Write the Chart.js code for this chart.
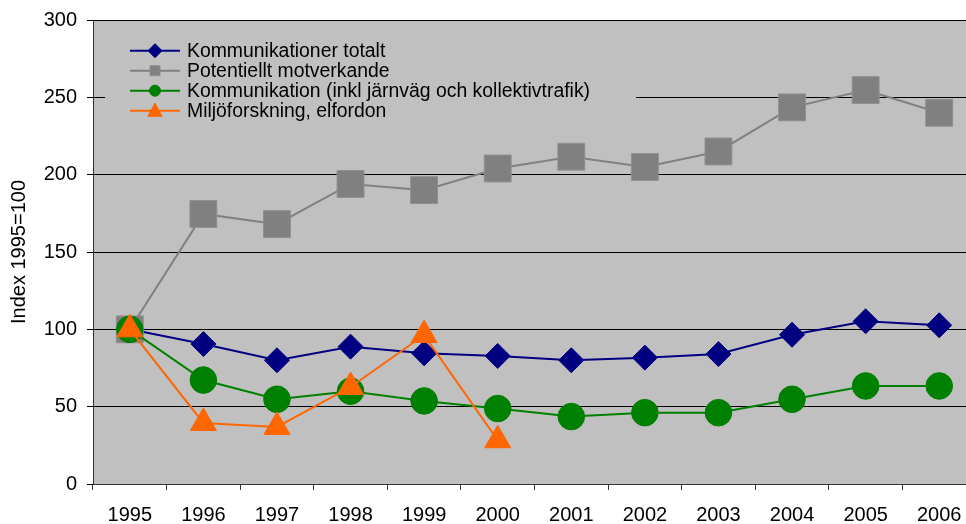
<!DOCTYPE html>
<html>
<head>
<meta charset="utf-8">
<script src="https://cdn.jsdelivr.net/npm/chart.js@4/dist/chart.umd.min.js"></script>
<style>
  html, body { margin: 0; padding: 0; background: #fff; overflow: hidden; }
  #wrap { width: 966px; height: 524px; overflow: hidden; position: relative; }
  canvas { display: block; }
</style>
</head>
<body>
<div id="wrap"><canvas id="c" width="1000" height="524" style="width:1000px;height:524px"></canvas></div>
<script>
const years = ['1995','1996','1997','1998','1999','2000','2001','2002','2003','2004','2005','2006'];
const seriesNames = [
  'Kommunikationer totalt',
  'Potentiellt motverkande',
  'Kommunikation (inkl järnväg och kollektivtrafik)',
  'Miljöforskning, elfordon'
];
const kommTotalt   = [100, 90.5, 80, 88.8, 84.5, 82.8, 80, 81.7, 84, 96.5, 105.2, 102.6];
const motverkande  = [100, 174.6, 168, 194, 190, 204, 211.6, 205, 215, 243.5, 254.7, 240];
const kommInkl     = [100, 67.2, 54.8, 60, 53.7, 48.8, 43.6, 46.1, 46.1, 54.8, 63.4, 63.4];
const miljo        = [100, 39.5, 36.9, 62.7, 96.3, 28.3, null, null, null, null, null, null];
const yTicks = [0, 50, 100, 150, 200, 250, 300];
const yTitle = 'Index 1995=100';

const FONT = "'Liberation Sans', Arial, sans-serif";
const TARGET_RIGHT = 976;

const bgPlugin = {
  id: 'bg',
  beforeDraw(chart) {
    const ctx = chart.ctx, a = chart.chartArea;
    ctx.save();
    ctx.fillStyle = '#ffffff';
    ctx.fillRect(0, 0, chart.width, chart.height);
    ctx.fillStyle = '#C0C0C0';
    ctx.fillRect(a.left, a.top, a.right - a.left, a.bottom - a.top);
    ctx.restore();
  }
};

function drawMarker(ctx, style, x, y, r, fill, stroke) {
  ctx.beginPath();
  if (style === 'rectRot') {
    ctx.moveTo(x, y - r); ctx.lineTo(x + r, y); ctx.lineTo(x, y + r); ctx.lineTo(x - r, y); ctx.closePath();
  } else if (style === 'rect') {
    ctx.rect(x - r, y - r, 2 * r, 2 * r);
  } else if (style === 'circle') {
    ctx.arc(x, y, r, 0, Math.PI * 2);
  } else if (style === 'triangle') {
    ctx.moveTo(x, y - r); ctx.lineTo(x + r * 0.95, y + r * 0.75); ctx.lineTo(x - r * 0.95, y + r * 0.75); ctx.closePath();
  }
  ctx.fillStyle = fill; ctx.fill();
  ctx.strokeStyle = stroke; ctx.lineWidth = 1; ctx.stroke();
}

const legendPlugin = {
  id: 'insideLegend',
  afterDatasetsDraw(chart) {
    const ctx = chart.ctx, a = chart.chartArea;
    const boxL = a.left + 12, boxR = 636, boxT = 32, boxB = 128;
    ctx.save();
    ctx.fillStyle = '#C0C0C0';
    ctx.fillRect(boxL, boxT, boxR - boxL, boxB - boxT);
    const legendMarkers = [
      {style: 'rectRot', r: 7},
      {style: 'rect', r: 5},
      {style: 'circle', r: 5.5},
      {style: 'triangle', r: 7.5}
    ];
    chart.data.datasets.forEach((ds, i) => {
      const y = 50.7 + i * 20;
      const x0 = 130, x1 = 180;
      ctx.strokeStyle = ds.borderColor; ctx.lineWidth = 2;
      ctx.beginPath(); ctx.moveTo(x0, y); ctx.lineTo(x1, y); ctx.stroke();
      const m = legendMarkers[i];
      drawMarker(ctx, m.style, (x0 + x1) / 2, y, m.r, ds.pointBackgroundColor, ds.pointBorderColor);
      ctx.fillStyle = '#000';
      ctx.font = '19.4px ' + FONT;
      ctx.textAlign = 'left'; ctx.textBaseline = 'middle';
      ctx.fillText(ds.label, 187, y + 1);
    });
    ctx.restore();
  }
};

const ctx = document.getElementById('c').getContext('2d');
const chart = new Chart(ctx, {
  type: 'line',
  data: {
    labels: years,
    datasets: [
      {
        label: seriesNames[0], data: kommTotalt, order: 3,
        borderColor: '#000080', backgroundColor: '#000080', borderWidth: 2,
        pointStyle: 'rectRot', pointRadius: 12.5, pointHoverRadius: 12.5,
        pointBackgroundColor: '#000080', pointBorderColor: '#000080', pointBorderWidth: 1
      },
      {
        label: seriesNames[1], data: motverkande, order: 2,
        borderColor: '#808080', backgroundColor: '#808080', borderWidth: 2,
        pointStyle: 'rect', pointRadius: 19, pointHoverRadius: 19,
        pointBackgroundColor: '#808080', pointBorderColor: '#8f8f8f', pointBorderWidth: 1
      },
      {
        label: seriesNames[2], data: kommInkl, order: 1,
        borderColor: '#008000', backgroundColor: '#008000', borderWidth: 2,
        pointStyle: 'circle', pointRadius: 13.3, pointHoverRadius: 13.3,
        pointBackgroundColor: '#008000', pointBorderColor: '#008000', pointBorderWidth: 1
      },
      {
        label: seriesNames[3], data: miljo, order: 0,
        borderColor: '#FF6600', backgroundColor: '#FF6600', borderWidth: 2,
        pointStyle: 'triangle', pointRadius: 15, pointHoverRadius: 15,
        pointBackgroundColor: '#FF6600', pointBorderColor: '#FF6600', pointBorderWidth: 1,
        spanGaps: false
      }
    ]
  },
  options: {
    responsive: false,
    animation: false,
    devicePixelRatio: 1,
    layout: { padding: { left: 0, right: 24, top: 20, bottom: 0 } },
    plugins: { legend: { display: false }, tooltip: { enabled: false } },
    elements: { line: { tension: 0 } },
    scales: {
      x: {
        type: 'category',
        offset: true,
        grid: { offset: true, drawOnChartArea: false, drawTicks: true, tickLength: 6, color: '#333333', lineWidth: 1 },
        border: { display: true, color: '#333333', width: 1 },
        ticks: { color: '#000', font: { family: FONT, size: 20 }, padding: 13, maxRotation: 0, autoSkip: false },
        afterFit(s) { s.height = 40; s.paddingLeft = 0; s.paddingRight = 0; }
      },
      y: {
        min: 0, max: 300,
        afterBuildTicks(s) { s.ticks = yTicks.map(v => ({ value: v })); },
        grid: { color: '#000000', lineWidth: 1, drawTicks: true, tickLength: 6 },
        border: { display: true, color: '#333333', width: 1 },
        ticks: { color: '#000', font: { family: FONT, size: 20 }, padding: 10 },
        title: { display: true, text: yTitle, color: '#000', font: { family: FONT, size: 20 }, padding: { top: 7, bottom: 0 } },
        afterFit(s) { s.width = 93; s.paddingTop = 0; s.paddingBottom = 0; }
      }
    }
  },
  plugins: [bgPlugin, legendPlugin]
});
// adjust layout padding so the plot area's right edge lands where the reference has it
const diff = chart.chartArea.right - TARGET_RIGHT;
if (Math.abs(diff) > 0.5) {
  chart.options.layout.padding.right = Math.max(0, 24 + diff);
  chart.update();
}
</script>
</body>
</html>
